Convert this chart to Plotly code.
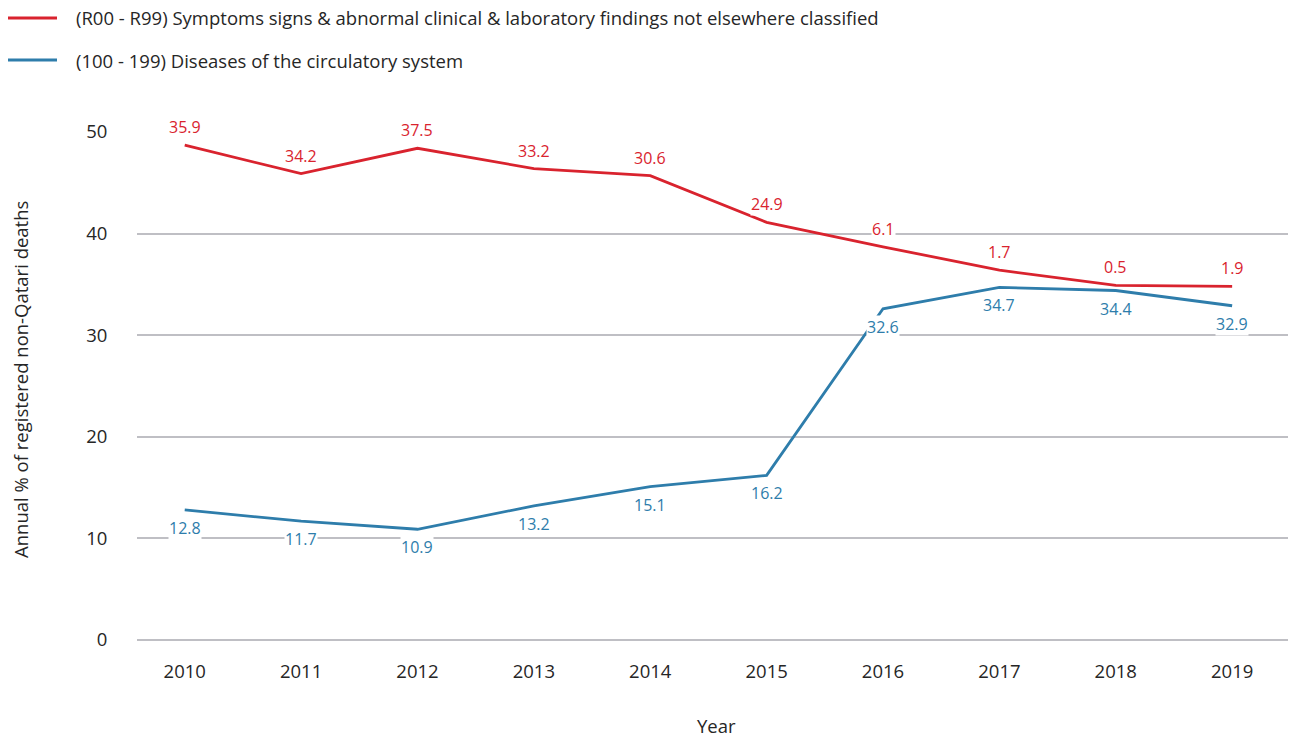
import numpy as np
import plotly.graph_objects as go

years = ["2010", "2011", "2012", "2013", "2014", "2015", "2016", "2017", "2018", "2019"]
circulatory = [12.8, 11.7, 10.9, 13.2, 15.1, 16.2, 32.6, 34.7, 34.4, 32.9]
symptoms = [35.9, 34.2, 37.5, 33.2, 30.6, 24.9, 6.1, 1.7, 0.5, 1.9]
name_symptoms = "(R00 - R99) Symptoms signs & abnormal clinical & laboratory findings not elsewhere classified"
name_circ = "(100 - 199) Diseases of the circulatory system"

RED = "#d9232e"
BLUE = "#2e7dab"
FONT = "Open Sans"
TXT = "#262626"

xi = list(range(len(years)))
fig = go.Figure()
fig.add_trace(go.Scatter(x=xi, y=circulatory, name=name_circ, mode="lines",
                         stackgroup="s", fill="none",
                         line=dict(color=BLUE, width=2.8)))
fig.add_trace(go.Scatter(x=xi, y=symptoms, name=name_symptoms, mode="lines",
                         stackgroup="s", fill="none",
                         line=dict(color=RED, width=2.8)))

cum_blue = np.array(circulatory)
cum_red = cum_blue + np.array(symptoms)
ann = []
for i in xi:
    ann.append(dict(x=i, y=cum_red[i], text=f"{symptoms[i]:.1f}", showarrow=False,
                    yshift=18, font=dict(color=RED, size=16, family=FONT),
                    bgcolor="white", borderpad=0))
    ann.append(dict(x=i, y=cum_blue[i], text=f"{circulatory[i]:.1f}", showarrow=False,
                    yshift=-18, font=dict(color=BLUE, size=16, family=FONT),
                    bgcolor="white", borderpad=0))

# page has an 8px body margin: build the figure 8px smaller and shift
OFF = 8
FW, FH = 1296 - OFF, 738 - OFF
L, R, T, B = 137 - OFF, 1, 132 - OFF, 98
W, H = FW - L - R, FH - T - B
def px(x): return (x - OFF - L) / W
def py(y): return (FH - B - (y - OFF)) / H

shapes = []
for yy, col, name in [(18, RED, name_symptoms), (60, BLUE, name_circ)]:
    shapes.append(dict(type="line", xref="paper", yref="paper",
                       x0=px(6), x1=px(57), y0=py(yy), y1=py(yy),
                       line=dict(color=col, width=2.8)))
    ann.append(dict(xref="paper", yref="paper", x=px(74), y=py(yy), text=name,
                    showarrow=False, xanchor="left", yanchor="middle",
                    font=dict(color=TXT, size=18.5, family=FONT)))

ann.append(dict(xref="paper", yref="paper", x=px(20), y=py(380), textangle=-90,
                text="Annual % of registered non-Qatari deaths", showarrow=False,
                xanchor="center", yanchor="middle",
                font=dict(color=TXT, size=18.5, family=FONT)))
ann.append(dict(xref="paper", yref="paper", x=0.5, y=py(725), text="Year",
                showarrow=False, xanchor="center", yanchor="middle",
                font=dict(color=TXT, size=18.5, family=FONT)))

fig.update_layout(
    width=FW, height=FH,
    margin=dict(l=L, r=R, t=T, b=B),
    paper_bgcolor="white", plot_bgcolor="white",
    showlegend=False,
    font=dict(family=FONT, size=18.5, color=TXT),
    annotations=ann, shapes=shapes,
    xaxis=dict(range=[-0.41, 9.54], tickmode="array", tickvals=xi, ticktext=years,
               showgrid=False, zeroline=False, showline=False,
               ticks="outside", ticklen=15, tickcolor="rgba(0,0,0,0)",
               tickfont=dict(size=18.5, color=TXT)),
    yaxis=dict(range=[0, 50], tickvals=[0, 10, 20, 30, 40, 50],
               showgrid=True, gridcolor="#bfbfc4", gridwidth=1.5,
               zeroline=True, zerolinecolor="#bfbfc4", zerolinewidth=1.5,
               showline=False, ticks="outside", ticklen=25,
               tickcolor="rgba(0,0,0,0)", tickfont=dict(size=18.5, color=TXT)),
)
fig.write_html("out.html")
